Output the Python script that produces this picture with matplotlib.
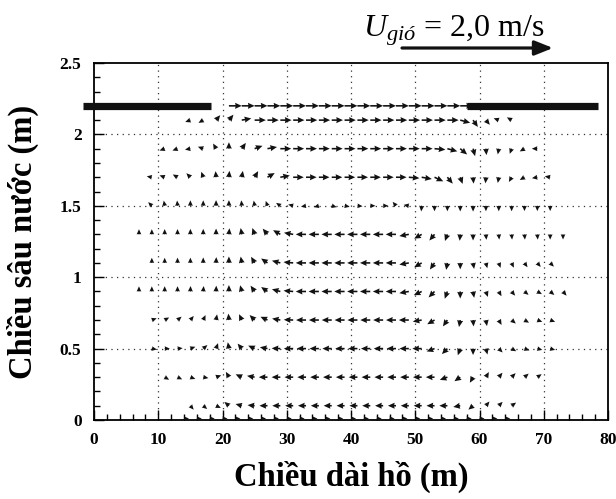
import numpy as np
import matplotlib
matplotlib.use('Agg')
import matplotlib.pyplot as plt
from matplotlib.ticker import MultipleLocator

plt.rcParams['font.family'] = ['Liberation Serif', 'DejaVu Serif']
plt.rcParams['mathtext.fontset'] = 'custom'
plt.rcParams['mathtext.rm'] = 'Liberation Serif'
plt.rcParams['mathtext.it'] = 'Liberation Serif:italic'

# ---- data: measurement rows (depth, first/last station along lake, m) ----
row_depth   = [2.2, 2.1, 1.9, 1.7, 1.5, 1.3, 1.1, 0.9, 0.7, 0.5, 0.3, 0.1, 0.01]
row_x_first = [21, 15, 11, 9, 9, 7, 9, 7, 9, 9, 11, 15, 14]
row_x_last  = [57, 65, 69, 71, 71, 73, 71, 73, 71, 71, 69, 65, 64]
station_step = 2

# flow direction (deg, 0 = towards +x, 90 = up) and speed (relative) per row
dir_r22 = [0, 0, 0, 0, 0, 0, 0, 0, 0, 0, 0, 0, 0, 0, 0, 0, 0, 0, 0]
spd_r22 = [2.0, 2.0, 2.0, 2.0, 2.0, 2.0, 2.0, 2.0, 2.0, 2.0, 2.0, 2.0, 2.0, 2.0, 2.0, 2.0, 2.0, 2.0, 2.0]

dir_r21 = [200, 210, 50, 50, 10, 0, 0, 0, 0, 0, 0, 0, 0, 0, 0, 0, 0, 0, 0, 0, 0, -15, -55, -50, 160, 150]
spd_r21 = [0.85, 0.85, 1.0, 1.1, 1.5, 1.75, 1.75, 1.75, 1.75, 1.75, 1.75, 1.75, 1.75, 1.75, 1.75, 1.75,
           1.75, 1.75, 1.75, 1.75, 1.75, 1.6, 1.3, 0.95, 0.85, 0.85]

dir_r19 = [200, 200, 190, 160, 120, 90, 55, 20, 10, 0, 0, 0, 0, 0, 0, 0, 0, 0, 0, 0, 0,
           -5, -15, -40, -75, -85, -100, -110, -150, 180]
spd_r19 = [0.85, 0.85, 0.85, 0.88, 0.92, 1.0, 1.1, 1.3, 1.5, 1.7, 1.7, 1.7, 1.7, 1.7, 1.7, 1.7, 1.7,
           1.7, 1.7, 1.7, 1.7, 1.7, 1.6, 1.4, 1.2, 1.0, 0.9, 0.85, 0.85, 0.85]

dir_r17 = [170, 160, 150, 135, 110, 95, 85, 80, 60, 30, 10, 0, 0, 0, 0, 0, 0, 0, 0, 0,
           -5, -10, -25, -50, -70, -85, -95, -100, -120, -150, 190, 170]
spd_r17 = [0.8, 0.85, 0.85, 0.88, 0.9, 0.95, 1.0, 1.0, 1.1, 1.3, 1.5, 1.65, 1.65, 1.65, 1.65, 1.65,
           1.65, 1.65, 1.65, 1.65, 1.65, 1.6, 1.5, 1.3, 1.1, 1.0, 0.95, 0.9, 0.85, 0.85, 0.85, 0.85]

dir_r15 = [135, 100, 95, 90, 90, 90, 90, 95, 100, 110, 145, 165, 190, 195, -15, -10, -5, 0, 0, 130, 170,
           -95, -90, -90, -90, -90, -90, -90, -90, -90, -90, -90]
spd_r15 = [0.8, 0.82, 0.82, 0.85, 0.85, 0.88, 0.88, 0.85, 0.82, 0.8, 0.8, 0.8, 0.8, 0.8, 0.8, 0.8,
           0.8, 0.8, 0.8, 0.8, 0.82, 0.88, 0.85, 0.85, 0.88, 0.9, 0.85, 0.85, 0.85, 0.82, 0.82, 0.82]

dir_r13 = [90, 90, 90, 90, 90, 90, 90, 85, 100, 110, 130, 150, 170, 180, 180, 180, 180, 180, 180, 180, 180,
           190, 210, 230, 250, 265, 270, -85, -85, -85, -85, -85, -90, -90]
spd_r13 = [0.8, 0.8, 0.82, 0.82, 0.85, 0.85, 0.9, 0.95, 1.0, 1.05, 1.15, 1.3, 1.45, 1.6, 1.6, 1.6, 1.6,
           1.6, 1.6, 1.6, 1.6, 1.5, 1.35, 1.25, 1.1, 1.0, 0.95, 0.85, 0.82, 0.82, 0.82, 0.82, 0.82, 0.8]

dir_r11 = [90, 90, 90, 90, 90, 88, 90, 100, 120, 145, 165, 175, 180, 180, 180, 180, 180, 180, 180, 180,
           190, 210, 235, 260, 270, 280, -75, -70, -65, -55, -50, -45]
spd_r11 = [0.8, 0.8, 0.82, 0.82, 0.85, 0.9, 1.0, 1.0, 1.1, 1.2, 1.35, 1.5, 1.6, 1.6, 1.6, 1.6, 1.6, 1.6,
           1.6, 1.6, 1.5, 1.35, 1.25, 1.1, 1.0, 0.95, 0.85, 0.82, 0.82, 0.82, 0.82, 0.82]

dir_r09 = [90, 90, 90, 90, 88, 85, 88, 90, 105, 125, 145, 165, 175, 180, 180, 180, 180, 180, 180, 180, 180,
           190, 205, 225, 250, 270, 280, -70, -60, -50, -40, -30, -40, -50]
spd_r09 = [0.8, 0.8, 0.82, 0.82, 0.85, 0.85, 0.9, 1.0, 1.0, 1.1, 1.2, 1.35, 1.5, 1.6, 1.6, 1.6, 1.6, 1.6,
           1.6, 1.6, 1.6, 1.5, 1.35, 1.3, 1.2, 1.1, 1.0, 0.9, 0.85, 0.85, 0.82, 0.82, 0.85, 0.85]

dir_r07 = [20, 30, 40, 50, 65, 80, 95, 115, 135, 155, 170, 178, 180, 180, 180, 180, 180, 180, 180, 180, 180,
           190, 210, 235, 260, 275, -80, -60, -40, -30, -20, -20]
spd_r07 = [0.8, 0.8, 0.82, 0.82, 0.85, 0.9, 1.0, 1.0, 1.1, 1.2, 1.3, 1.45, 1.55, 1.55, 1.55, 1.55, 1.55,
           1.55, 1.55, 1.55, 1.55, 1.4, 1.3, 1.2, 1.1, 1.0, 0.95, 0.88, 0.85, 0.82, 0.82, 0.82]

dir_r05 = [-10, 0, 5, 20, 40, 70, 100, 130, 155, 170, 178, 180, 180, 180, 180, 180, 180, 180, 180, 180, 180, 180,
           200, 225, 250, 270, -75, -45, -30, -20, -15, -15]
spd_r05 = [0.8, 0.8, 0.8, 0.82, 0.85, 0.9, 1.0, 1.0, 1.1, 1.2, 1.35, 1.45, 1.45, 1.45, 1.45, 1.45, 1.45,
           1.45, 1.45, 1.45, 1.45, 1.45, 1.3, 1.2, 1.1, 1.0, 0.95, 0.85, 0.82, 0.82, 0.8, 0.8]

dir_r03 = [-30, -25, -20, -10, 20, 120, 155, 170, 180, 180, 180, 180, 180, 180, 180, 180, 180, 180, 180, 180,
           180, 180, 200, 215, 240, 60, 50, 45, 40, 35]
spd_r03 = [0.8, 0.8, 0.82, 0.82, 0.85, 0.95, 1.05, 1.2, 1.35, 1.35, 1.35, 1.35, 1.35, 1.35, 1.35, 1.35,
           1.35, 1.35, 1.35, 1.35, 1.35, 1.35, 1.25, 1.1, 1.0, 0.92, 0.9, 0.88, 0.85, 0.82]

dir_r01 = [-50, -40, -25, 140, 165, 175, 180, 180, 180, 180, 180, 180, 180, 180, 180, 180, 180, 180, 180,
           180, 180, 190, 220, 50, 45, 35]
spd_r01 = [0.8, 0.8, 0.82, 0.92, 1.0, 1.1, 1.25, 1.25, 1.25, 1.25, 1.25, 1.25, 1.25, 1.25, 1.25, 1.25,
           1.25, 1.25, 1.25, 1.25, 1.25, 1.1, 0.95, 0.85, 0.85, 0.85]

dir_r00 = [0, 0, 0, 0, 0, 0, 0, 0, 0, 0, 0, 0, 0, 0, 0, 0, 0, 0, 0, 0, 0, 0, 0, 0, 0, 0]
spd_r00 = [0.78, 0.78, 0.78, 0.78, 0.78, 0.78, 0.78, 0.78, 0.78, 0.78, 0.78, 0.78, 0.78, 0.78, 0.78,
           0.78, 0.78, 0.78, 0.78, 0.78, 0.78, 0.78, 0.78, 0.78, 0.78, 0.78]

row_dirs = [dir_r22, dir_r21, dir_r19, dir_r17, dir_r15, dir_r13, dir_r11, dir_r09,
            dir_r07, dir_r05, dir_r03, dir_r01, dir_r00]
row_spds = [spd_r22, spd_r21, spd_r19, spd_r17, spd_r15, spd_r13, spd_r11, spd_r09,
            spd_r07, spd_r05, spd_r03, spd_r01, spd_r00]

# covers (thick bars) at the water surface
cover_depth = 2.2
cover_left = (-1.7, 18.2)
cover_right = (58.0, 78.5)

xticks = [0, 10, 20, 30, 40, 50, 60, 70, 80]
yticks = [0, 0.5, 1, 1.5, 2, 2.5]
ytick_labels = ['0', '0.5', '1', '1.5', '2', '2.5']

# ---- build arrays ----
X, Y, U, V = [], [], [], []
for yd, x0, x1, dirs, spds in zip(row_depth, row_x_first, row_x_last, row_dirs, row_spds):
    xs = np.arange(x0, x1 + 1, station_step)
    assert len(xs) == len(dirs) == len(spds), (yd, len(xs), len(dirs), len(spds))
    a = np.deg2rad(np.array(dirs, float))
    s = np.array(spds, float)
    X.extend(xs)
    Y.extend([yd] * len(xs))
    U.extend(s * np.cos(a))
    V.extend(s * np.sin(a))

fig = plt.figure(figsize=(6.16, 4.99), dpi=100)
ax = fig.add_axes([94 / 616, 79 / 499, 514 / 616, 357 / 499])

ax.set_xlim(0, 80)
ax.set_ylim(0, 2.5)

ax.quiver(X, Y, U, V, angles='uv', scale_units='x', scale=1, units='dots',
          width=1.6, headwidth=3.8, headlength=4.2, headaxislength=3.9,
          pivot='tail', color='#111111', zorder=3)

ax.plot(cover_left, [cover_depth, cover_depth], color='#111111', lw=5.2,
        solid_capstyle='butt', clip_on=False, zorder=5)
ax.plot(cover_right, [cover_depth, cover_depth], color='#111111', lw=5.2,
        solid_capstyle='butt', clip_on=False, zorder=5)

ax.set_xticks(xticks)
ax.set_yticks(yticks)
ax.set_yticklabels(ytick_labels)
ax.xaxis.set_minor_locator(MultipleLocator(2))
ax.yaxis.set_minor_locator(MultipleLocator(0.1))
ax.tick_params(which='both', direction='in', top=False, right=False, width=1.0)
ax.tick_params(which='major', length=7, labelsize=12.5, pad=9)
ax.tick_params(which='minor', length=4)
for lab in ax.get_xticklabels() + ax.get_yticklabels():
    lab.set_fontweight('bold')

for gx in [10, 20, 30, 40, 50, 60, 70]:
    ax.axvline(gx, color='#333333', lw=0.9, ls=(0, (1, 3.5)), zorder=1)
for gy in [0.5, 1.0, 1.5, 2.0]:
    ax.axhline(gy, color='#333333', lw=0.9, ls=(0, (1, 3.5)), zorder=1)

for sp in ax.spines.values():
    sp.set_linewidth(1.3)

ax.set_xlabel('Chiều dài hồ (m)', fontsize=23.5, fontweight='bold', labelpad=9)
ax.set_ylabel('Chiều sâu nước (m)', fontsize=23.5, fontweight='bold', labelpad=15)

fig.text(363 / 616, 1 - 36 / 499, r'$U_{gió}$ = 2,0 m/s', fontsize=23,
         ha='left', va='baseline')
ax.annotate('', xy=(553 / 616, 1 - 48 / 499), xytext=(402 / 616, 1 - 48 / 499),
            xycoords='figure fraction', textcoords='figure fraction',
            arrowprops=dict(arrowstyle='-|>,head_length=0.55,head_width=0.22',
                            lw=2.3, color='#111111', shrinkA=0, shrinkB=0,
                            mutation_scale=20))

fig.savefig('out.png', dpi=100)
